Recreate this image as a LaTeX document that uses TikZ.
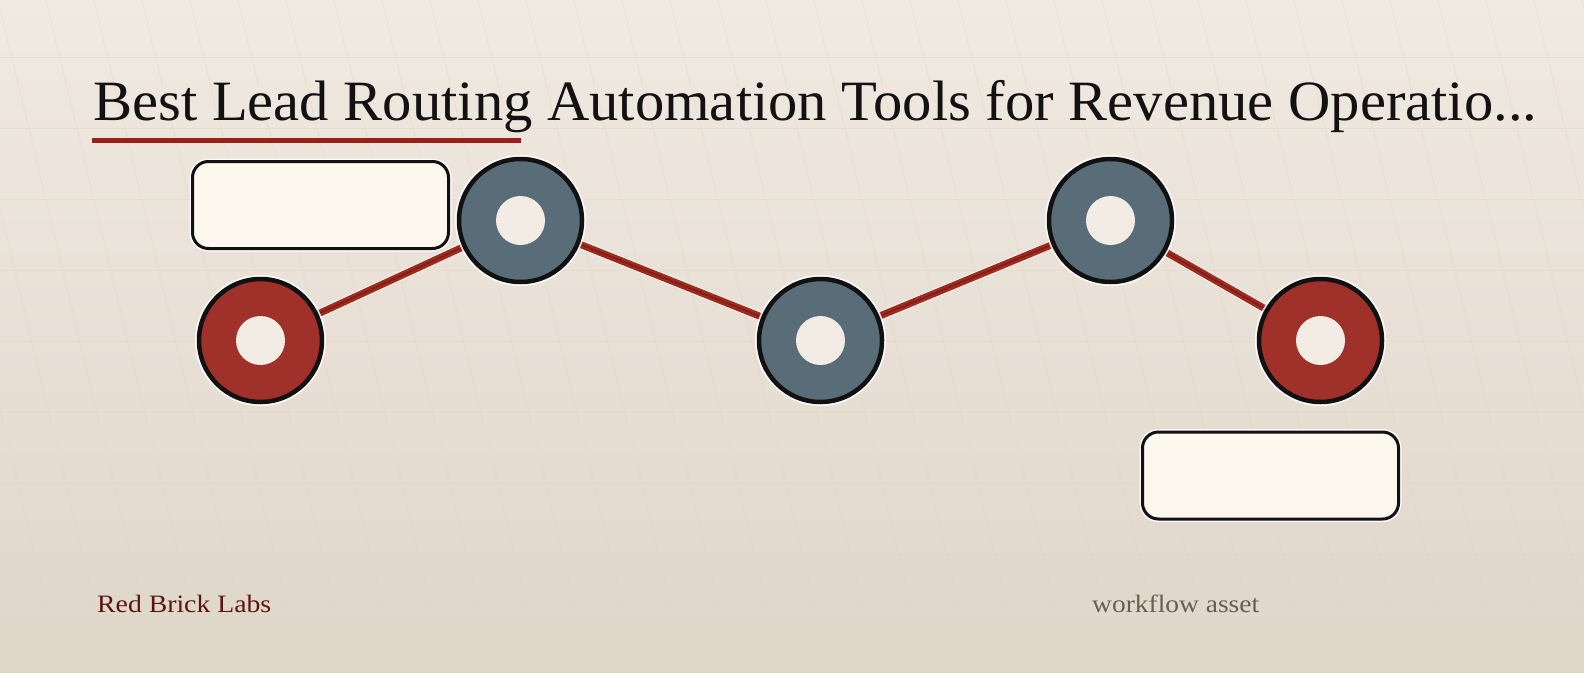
\documentclass[tikz,border=0pt]{standalone}
\usepackage{graphicx}
\usepackage{fontspec}
\setmainfont{Liberation Serif}
\usetikzlibrary{calc}
\definecolor{bgtop}{HTML}{F1EAE1}
\definecolor{bgbot}{HTML}{DFD6CA}
\definecolor{gridc}{HTML}{E6D3B5}
\definecolor{ringred}{HTML}{A0302A}
\definecolor{ringgrey}{HTML}{596D78}
\definecolor{holec}{HTML}{F2ECE4}
\definecolor{borderc}{HTML}{111111}
\definecolor{connc}{HTML}{A3291F}
\definecolor{conncore}{HTML}{6B1F1A}
\definecolor{cardc}{HTML}{FDF8EE}
\definecolor{titlec}{HTML}{121212}
\definecolor{ulc}{HTML}{9B1F1A}
\definecolor{brandc}{HTML}{5C1414}
\definecolor{notec}{HTML}{6A5D52}
\pgfdeclarelayer{bg}
\pgfdeclarelayer{lines}
\pgfsetlayers{bg,lines,main}
\newsavebox\titlebox
\newsavebox\brandbox
\newsavebox\notebox
\tikzset{
  ring/.style={circle, minimum size=123pt, inner sep=0pt, draw=borderc, line width=4.5pt, fill=#1,
    preaction={draw=white, draw opacity=0.85, line width=8pt},
    path picture={\fill[holec] (path picture bounding box.center) circle (24.5pt);}},
  card/.style={rectangle, rounded corners=16pt, minimum width=256pt, minimum height=87pt, inner sep=0pt,
    draw=borderc, line width=3pt, fill=cardc,
    preaction={draw=white, draw opacity=0.85, line width=6pt}},
  conn/.style={draw=connc, line width=7pt},
  conncore/.style={draw=conncore, line width=1.6pt, draw opacity=0.8},
  diag/.style={draw=gridc, line width=0.8pt, draw opacity=0.4},
  hline/.style={draw=gridc, line width=0.8pt, draw opacity=0.45},
  txt/.style={inner sep=0pt, anchor=base west}
}
\begin{document}
\sbox\titlebox{\color{titlec}\fontsize{57}{60}\selectfont Best Lead Routing Automation Tools for Revenue Operatio...}%
\sbox\brandbox{\color{brandc}\fontsize{25}{28}\selectfont Red Brick Labs}%
\sbox\notebox{\color{notec}\fontsize{25}{28}\selectfont workflow asset}%
\pgfmathsetmacro\tsx{1444pt/\wd\titlebox}%
\pgfmathsetmacro\bsx{174pt/\wd\brandbox}%
\pgfmathsetmacro\nsx{167pt/\wd\notebox}%
\begin{tikzpicture}[x=1pt, y=-1pt]
\useasboundingbox (0,0) rectangle (1584,672);
\begin{pgfonlayer}{bg}
  \shade[top color=bgtop, bottom color=bgbot] (0,0) rectangle (1584,672);
  \begin{scope}
    \clip (0,0) rectangle (1584,672);
    \foreach \i in {-5,...,34} {
      \draw[diag] ({\i*48-2},0) -- ({\i*48-2+161},672);
    }
    \foreach \j in {0,...,8} {
      \draw[hline] (0,{57+71*\j}) -- (1584,{57+71*\j});
    }
  \end{scope}
\end{pgfonlayer}

% title
\node[txt] (title) at (93,120) {\scalebox{\tsx}[1]{\usebox\titlebox}};
\coordinate (ulL) at (92,140.5);
\coordinate (ulR) at (521,140.5);
\draw[ulc, line width=5pt] (ulL) -- (ulR);

% cards
\node[card] (card1) at (320.5,205) {};
\node[card] (card2) at (1270.5,475.5) {};

% rings
\node[ring=ringred]  (n1) at (260.5,340.5) {};
\node[ring=ringgrey] (n2) at (520.5,220.5) {};
\node[ring=ringgrey] (n3) at (820.5,340.5) {};
\node[ring=ringgrey] (n4) at (1110.5,220.5) {};
\node[ring=ringred]  (n5) at (1320.5,340.5) {};

\begin{pgfonlayer}{lines}
  \foreach \a/\b in {n1/n2, n2/n3, n3/n4, n4/n5} {
    \draw[draw=white, draw opacity=0.6, line width=9pt] (\a.center) -- (\b.center);
    \draw[conn] (\a.center) -- (\b.center);
    \draw[conncore] (\a.center) -- (\b.center);
  }
\end{pgfonlayer}

% footer
\node[txt] (brand) at (97,612) {\scalebox{\bsx}[1]{\usebox\brandbox}};
\node[txt] (note) at (1092,612) {\scalebox{\nsx}[1]{\usebox\notebox}};
\end{tikzpicture}
\end{document}
